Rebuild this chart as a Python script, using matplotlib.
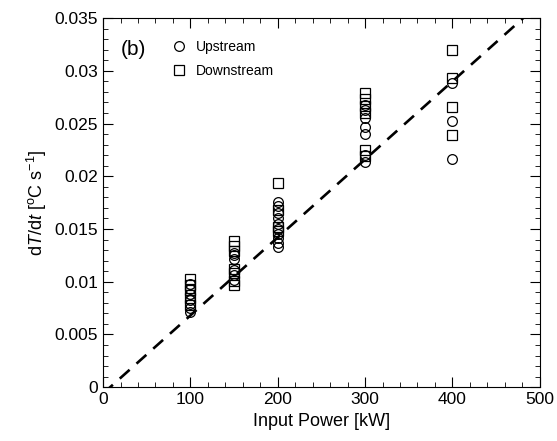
import matplotlib
matplotlib.use("Agg")
import matplotlib.pyplot as plt
from matplotlib.ticker import MultipleLocator

plt.rcParams['font.family'] = ['Liberation Sans', 'DejaVu Sans']
plt.rcParams['mathtext.fontset'] = 'custom'
plt.rcParams['mathtext.rm'] = 'Liberation Sans'
plt.rcParams['mathtext.it'] = 'Liberation Sans:italic'

# upstream (circles)
up_x = [100] * 7 + [150] * 6 + [200] * 10 + [300] * 7 + [400] * 3
up_y = [0.0071, 0.0075, 0.0079, 0.0083, 0.0088, 0.0093, 0.0098,
        0.0102, 0.0106, 0.0111, 0.0122, 0.0125, 0.0127,
        0.0133, 0.0137, 0.0141, 0.0145, 0.0150, 0.0155, 0.0160, 0.0165, 0.0172, 0.0176,
        0.0214, 0.0220, 0.0240, 0.0247, 0.0255, 0.0263, 0.0268,
        0.0216, 0.0252, 0.0288]

# downstream (squares)
down_x = [100] * 5 + [150] * 7 + [200] * 4 + [300] * 6 + [400] * 4
down_y = [0.0078, 0.0085, 0.0092, 0.0097, 0.0103,
          0.0097, 0.0101, 0.0108, 0.0112, 0.0129, 0.0134, 0.0139,
          0.0148, 0.0152, 0.0168, 0.0194,
          0.0219, 0.0225, 0.0260, 0.0267, 0.0273, 0.0279,
          0.0239, 0.0266, 0.0293, 0.0320]

# dashed fit line
fit_x = [0, 500]
fit_slope = 7.4e-5
fit_icpt = -0.0006
fit_y = [fit_slope * x + fit_icpt for x in fit_x]

fig = plt.figure(figsize=(5.57, 4.41), dpi=100)
ax = fig.add_axes([0.185, 0.122, 0.784, 0.837])

ax.plot(fit_x, fit_y, '--', color='black', linewidth=1.9, dashes=(5, 3.5))
ax.plot(up_x, up_y, 'o', mfc='none', mec='black', ms=7, mew=0.9, label='Upstream')
ax.plot(down_x, down_y, 's', mfc='none', mec='black', ms=7, mew=0.9, label='Downstream')

ax.set_xlim(0, 500)
ax.set_ylim(0, 0.035)
ax.xaxis.set_major_locator(MultipleLocator(100))
ax.xaxis.set_minor_locator(MultipleLocator(20))
ax.yaxis.set_minor_locator(MultipleLocator(0.001))
ax.set_yticks([0, 0.005, 0.01, 0.015, 0.02, 0.025, 0.03, 0.035])
ax.set_yticklabels(['0', '0.005', '0.01', '0.015', '0.02', '0.025', '0.03', '0.035'])
ax.tick_params(which='both', direction='in', top=True, right=True, labelsize=12.5)
ax.tick_params(which='major', length=7)
ax.tick_params(which='minor', length=3.5)

ax.set_xlabel('Input Power [kW]', fontsize=13)
ax.set_ylabel(r'd$\it{T}$/d$\it{t}$ [$^{\rm o}$C s$^{-1}$]', fontsize=13)

ax.text(0.04, 0.9, '(b)', transform=ax.transAxes, fontsize=15)
ax.legend(loc='upper left', bbox_to_anchor=(0.13, 0.975), frameon=False,
          fontsize=10, handletextpad=0.7, labelspacing=0.75, handlelength=1)

fig.savefig('out.png', dpi=100)
